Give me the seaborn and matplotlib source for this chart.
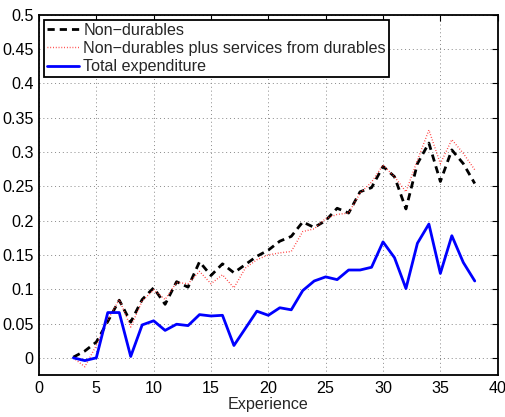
import numpy as np
import pandas as pd
import matplotlib
matplotlib.use("Agg")
import matplotlib.pyplot as plt
import seaborn as sns

# experience (years) on the x axis
experience = list(range(3, 39))

non_durables = [0.001, 0.010, 0.023, 0.053, 0.084, 0.052, 0.085, 0.102, 0.078,
                0.111, 0.103, 0.140, 0.120, 0.137, 0.124, 0.136, 0.148, 0.157,
                0.170, 0.177, 0.198, 0.190, 0.200, 0.218, 0.211, 0.242, 0.248,
                0.279, 0.264, 0.217, 0.283, 0.313, 0.257, 0.303, 0.283, 0.254]

non_durables_services = [0.000, -0.013, 0.018, 0.055, 0.085, 0.045, 0.083, 0.099,
                         0.085, 0.110, 0.108, 0.126, 0.108, 0.121, 0.102, 0.131,
                         0.143, 0.150, 0.153, 0.155, 0.184, 0.188, 0.203, 0.209,
                         0.211, 0.240, 0.256, 0.281, 0.264, 0.242, 0.288, 0.332,
                         0.283, 0.318, 0.298, 0.274]

total_expenditure = [0.000, -0.004, 0.000, 0.066, 0.066, 0.002, 0.048, 0.054,
                     0.040, 0.049, 0.047, 0.063, 0.061, 0.062, 0.018, 0.043,
                     0.068, 0.062, 0.073, 0.070, 0.098, 0.112, 0.118, 0.114,
                     0.128, 0.128, 0.132, 0.169, 0.146, 0.101, 0.167, 0.195,
                     0.123, 0.178, 0.139, 0.112]

labels = ["Non\u2212durables",
          "Non\u2212durables plus services from durables",
          "Total expenditure"]

df = pd.DataFrame({"Experience": experience,
                   labels[0]: non_durables,
                   labels[1]: non_durables_services,
                   labels[2]: total_expenditure})

sns.set_style("white")
plt.rcParams["font.family"] = ["Liberation Sans", "DejaVu Sans"]
fs = 11.6

fig = plt.figure(figsize=(5.06, 4.17), dpi=100)
ax = fig.add_axes([0.077, 0.1007, 0.9066, 0.864])

sns.lineplot(data=df, x="Experience", y=labels[0], ax=ax, color="black",
             linestyle=(0, (2.6, 1.8)), linewidth=2.0, label=labels[0])
sns.lineplot(data=df, x="Experience", y=labels[1], ax=ax, color="#ff3030",
             linestyle=(0, (0.6, 1.4)), linewidth=1.0, label=labels[1])
sns.lineplot(data=df, x="Experience", y=labels[2], ax=ax, color="#0000ff",
             linewidth=2.0, label=labels[2])

ax.set_xlim(0, 40)
ax.set_ylim(-0.025, 0.5)
ax.set_xticks(np.arange(0, 41, 5))
ax.set_yticks(np.arange(0, 0.501, 0.05))
ax.yaxis.set_major_formatter(matplotlib.ticker.FuncFormatter(lambda v, p: f"{v:g}"))
ax.set_xlabel("Experience", fontsize=fs, labelpad=1)
ax.set_ylabel("")

ax.grid(True, color="#888888", linestyle=(0, (1, 3)), linewidth=0.7)
ax.tick_params(direction="in", length=4, width=0.8, top=True, right=True,
               labelsize=fs, pad=4, colors="black")
for s in ax.spines.values():
    s.set_color("black")
    s.set_linewidth(1.3)

leg = ax.legend(loc="upper left", fancybox=False, framealpha=1, edgecolor="black",
                fontsize=fs, handlelength=2.0, handletextpad=0.25,
                labelspacing=0.2, borderpad=0.2, borderaxespad=0.3)
leg.get_frame().set_linewidth(1.3)

fig.savefig("out.png", dpi=100)
